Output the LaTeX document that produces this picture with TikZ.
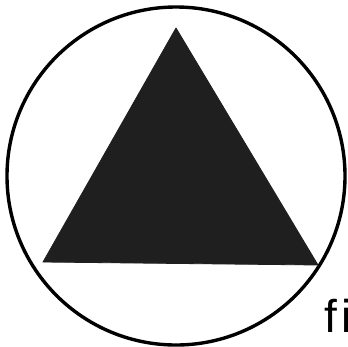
\documentclass[tikz,border=0pt]{standalone}
\usepackage{fontspec}
\setmainfont{Liberation Sans}
\begin{document}
\begin{tikzpicture}[x=1pt,y=-1pt,
  ring/.style={draw=black,line width=3.4pt},
  solid tri/.style={fill=black!88,draw=black!88,line width=0.8pt,line join=round},
  label text/.style={font=\fontsize{46}{46}\selectfont,inner sep=0pt,anchor=north west}]
\useasboundingbox (0,0) rectangle (348,346);
\clip (0,0) rectangle (348,346);
\fill[white] (0,0) rectangle (348,346);
\node[ring,circle,minimum size=338pt,inner sep=0pt] (ring) at (176,176) {};
\coordinate (apex) at (176,28);
\coordinate (bl) at (43,262);
\coordinate (br) at (318,265);
\path[solid tri] (apex) -- (br) -- (bl) -- cycle;
\node[label text] (fi) at (324,299) {f\kern5pt i};
\end{tikzpicture}
\end{document}
